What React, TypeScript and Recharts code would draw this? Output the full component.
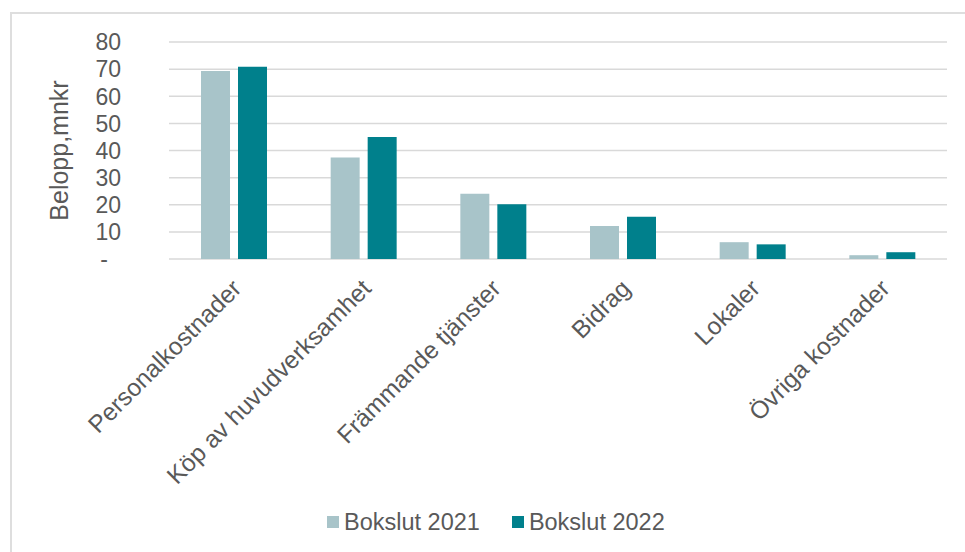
import React from 'react';
import { BarChart, Bar, XAxis, YAxis, CartesianGrid, Legend, Label } from 'recharts';

const categories = [
  'Personalkostnader',
  'Köp av huvudverksamhet',
  'Främmande tjänster',
  'Bidrag',
  'Lokaler',
  'Övriga kostnader',
];
const bokslut2021 = [69.3, 37.4, 24.1, 12.2, 6.2, 1.4];
const bokslut2022 = [70.9, 45.0, 20.2, 15.6, 5.4, 2.5];
const yTicks = [0, 10, 20, 30, 40, 50, 60, 70, 80];

const series = [
  { key: 'b2021', name: 'Bokslut 2021', color: '#a8c4c9' },
  { key: 'b2022', name: 'Bokslut 2022', color: '#00808c' },
];

const data = categories.map((name, i) => ({
  name,
  b2021: bokslut2021[i],
  b2022: bokslut2022[i],
}));

const TEXT = '#595959';
const FONT = '"Liberation Sans", Arial, sans-serif';

const YTick = (props: any) => {
  const { x, y, payload } = props;
  const zero = payload.value === 0;
  return (
    <text x={zero ? x - 13 : x} y={y} dy="0.36em" textAnchor="end" fill={TEXT} fontSize={23} fontFamily={FONT}>
      {zero ? '-' : payload.value}
    </text>
  );
};

const XTick = (props: any) => {
  const { x, y, payload } = props;
  const tx = x + 9;
  const ty = y + 31;
  return (
    <text
      x={tx}
      y={ty}
      textAnchor="end"
      transform={`rotate(-45, ${tx}, ${ty})`}
      fill={TEXT}
      fontSize={24.5}
      fontFamily={FONT}
    >
      {payload.value}
    </text>
  );
};

const LegendContent = () => (
  <div style={{ height: 40, display: 'flex', alignItems: 'center', paddingLeft: 327, fontFamily: FONT }}>
    {series.map((s, i) => (
      <div key={s.key} style={{ display: 'flex', alignItems: 'center', marginRight: i === 0 ? 32 : 0 }}>
        <div style={{ width: 12, height: 12, background: s.color, marginRight: 5 }} />
        <span style={{ fontSize: 23.5, color: TEXT }}>{s.name}</span>
      </div>
    ))}
  </div>
);

const App: React.FC = () => {
  return (
    <div style={{ position: 'fixed', left: 0, top: 0, width: 965, height: 552, overflow: 'hidden', background: '#fff' }}>
      <div
        style={{
          position: 'absolute',
          left: 10,
          top: 12,
          width: 1000,
          height: 600,
          border: '2px solid #dedede',
        }}
      />
      <div style={{ position: 'absolute', left: 0, top: 0 }}>
        <BarChart width={965} height={552} data={data} margin={{ top: 42, right: 18, left: 0, bottom: 0 }} barGap={8}>
          <CartesianGrid vertical={false} stroke="#d9d9d9" strokeWidth={1.5} />
          <XAxis
            dataKey="name"
            axisLine={false}
            tickLine={false}
            tickSize={0}
            tickMargin={0}
            height={253}
            interval={0}
            tick={<XTick />}
          />
          <YAxis
            domain={[0, 80]}
            ticks={yTicks}
            axisLine={false}
            tickLine={false}
            tickSize={0}
            tickMargin={48}
            width={169}
            tick={<YTick />}
          >
            <Label
              content={(p: any) => {
                const vb = p.viewBox;
                const cx = vb.x + 59;
                const cy = vb.y + vb.height / 2;
                return (
                  <text
                    x={cx}
                    y={cy}
                    dy="0.36em"
                    textAnchor="middle"
                    transform={`rotate(-90, ${cx}, ${cy})`}
                    fill={TEXT}
                    fontSize={25}
                    fontFamily={FONT}
                  >
                    Belopp,mnkr
                  </text>
                );
              }}
            />
          </YAxis>
          <Legend
            verticalAlign="bottom"
            content={<LegendContent />}
            wrapperStyle={{ left: 0, bottom: 10, width: 965 }}
          />
          {series.map((s) => (
            <Bar key={s.key} dataKey={s.key} name={s.name} fill={s.color} barSize={29} isAnimationActive={false} />
          ))}
        </BarChart>
      </div>
    </div>
  );
};

export default App;
